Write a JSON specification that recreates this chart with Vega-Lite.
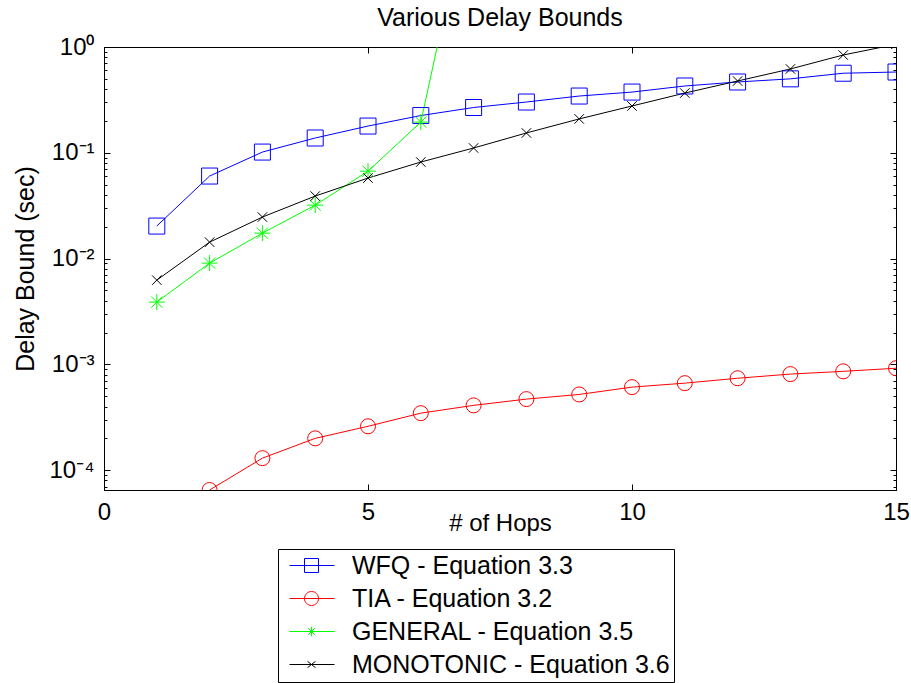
{
  "$schema": "https://vega.github.io/schema/vega-lite/v6.json",
  "width": 792,
  "height": 443,
  "autosize": {"type": "none"},
  "padding": {"left": 104, "top": 47, "right": 15, "bottom": 193},
  "background": "white",
  "title": {"text": "Various Delay Bounds", "fontSize": 25, "font": "Liberation Sans", "fontWeight": "normal", "color": "black", "offset": 8, "dy": 24, "baseline": "alphabetic"},
  "config": {
    "view": {"stroke": "black", "strokeWidth": 1},
    "axis": {"domainColor": "black", "tickColor": "black", "labelColor": "black", "titleColor": "black", "labelFont": "Liberation Sans", "titleFont": "Liberation Sans", "titleFontWeight": "normal", "grid": false, "tickWidth": 1, "domainWidth": 1}
  },
  "data": {"values": [
    {"s": "WFQ - Equation 3.3", "x": 1, "y": 0.0203},
    {"s": "WFQ - Equation 3.3", "x": 2, "y": 0.0603},
    {"s": "WFQ - Equation 3.3", "x": 3, "y": 0.1016},
    {"s": "WFQ - Equation 3.3", "x": 4, "y": 0.138},
    {"s": "WFQ - Equation 3.3", "x": 5, "y": 0.179},
    {"s": "WFQ - Equation 3.3", "x": 6, "y": 0.225},
    {"s": "WFQ - Equation 3.3", "x": 7, "y": 0.268},
    {"s": "WFQ - Equation 3.3", "x": 8, "y": 0.302},
    {"s": "WFQ - Equation 3.3", "x": 9, "y": 0.344},
    {"s": "WFQ - Equation 3.3", "x": 10, "y": 0.375},
    {"s": "WFQ - Equation 3.3", "x": 11, "y": 0.428},
    {"s": "WFQ - Equation 3.3", "x": 12, "y": 0.467},
    {"s": "WFQ - Equation 3.3", "x": 13, "y": 0.50},
    {"s": "WFQ - Equation 3.3", "x": 14, "y": 0.565},
    {"s": "WFQ - Equation 3.3", "x": 15, "y": 0.58},
    {"s": "TIA - Equation 3.2", "x": 2, "y": 0.000065},
    {"s": "TIA - Equation 3.2", "x": 3, "y": 0.00013},
    {"s": "TIA - Equation 3.2", "x": 4, "y": 0.0002},
    {"s": "TIA - Equation 3.2", "x": 5, "y": 0.00026},
    {"s": "TIA - Equation 3.2", "x": 6, "y": 0.000346},
    {"s": "TIA - Equation 3.2", "x": 7, "y": 0.00041},
    {"s": "TIA - Equation 3.2", "x": 8, "y": 0.00047},
    {"s": "TIA - Equation 3.2", "x": 9, "y": 0.00052},
    {"s": "TIA - Equation 3.2", "x": 10, "y": 0.00061},
    {"s": "TIA - Equation 3.2", "x": 11, "y": 0.000665},
    {"s": "TIA - Equation 3.2", "x": 12, "y": 0.00074},
    {"s": "TIA - Equation 3.2", "x": 13, "y": 0.00081},
    {"s": "TIA - Equation 3.2", "x": 14, "y": 0.00086},
    {"s": "TIA - Equation 3.2", "x": 15, "y": 0.00092},
    {"s": "GENERAL - Equation 3.5", "x": 1, "y": 0.00388},
    {"s": "GENERAL - Equation 3.5", "x": 2, "y": 0.00906},
    {"s": "GENERAL - Equation 3.5", "x": 3, "y": 0.0174},
    {"s": "GENERAL - Equation 3.5", "x": 4, "y": 0.032},
    {"s": "GENERAL - Equation 3.5", "x": 5, "y": 0.067},
    {"s": "GENERAL - Equation 3.5", "x": 6, "y": 0.195},
    {"s": "GENERAL - Equation 3.5", "x": 7, "y": 38},
    {"s": "MONOTONIC - Equation 3.6", "x": 1, "y": 0.00626},
    {"s": "MONOTONIC - Equation 3.6", "x": 2, "y": 0.0143},
    {"s": "MONOTONIC - Equation 3.6", "x": 3, "y": 0.0247},
    {"s": "MONOTONIC - Equation 3.6", "x": 4, "y": 0.039},
    {"s": "MONOTONIC - Equation 3.6", "x": 5, "y": 0.0577},
    {"s": "MONOTONIC - Equation 3.6", "x": 6, "y": 0.0818},
    {"s": "MONOTONIC - Equation 3.6", "x": 7, "y": 0.111},
    {"s": "MONOTONIC - Equation 3.6", "x": 8, "y": 0.154},
    {"s": "MONOTONIC - Equation 3.6", "x": 9, "y": 0.209},
    {"s": "MONOTONIC - Equation 3.6", "x": 10, "y": 0.277},
    {"s": "MONOTONIC - Equation 3.6", "x": 11, "y": 0.367},
    {"s": "MONOTONIC - Equation 3.6", "x": 12, "y": 0.477},
    {"s": "MONOTONIC - Equation 3.6", "x": 13, "y": 0.62},
    {"s": "MONOTONIC - Equation 3.6", "x": 14, "y": 0.84},
    {"s": "MONOTONIC - Equation 3.6", "x": 15, "y": 1.06}
  ]},
  "layer": [
    {
      "mark": {"type": "line", "strokeWidth": 1, "clip": true},
      "encoding": {
        "x": {"field": "x", "type": "quantitative", "scale": {"domain": [0, 15], "nice": false, "zero": false},
          "axis": {"orient": "bottom", "values": [0, 5, 10, 15], "title": "# of Hops", "tickSize": -6, "labelFontSize": 24, "labelPadding": 16, "labelFlush": false, "titleFontSize": 24, "titleY": 33, "titleBaseline": "middle"}},
        "y": {"field": "y", "type": "quantitative", "scale": {"type": "log", "domain": [0.000065, 1], "nice": false},
          "axis": {"orient": "left", "title": "Delay Bound (sec)", "titleFontSize": 25, "titleX": -79, "titleBaseline": "middle",
            "values": [0.00007, 0.00008, 0.00009, 0.0001, 0.0002, 0.0003, 0.0004, 0.0005, 0.0006, 0.0007, 0.0008, 0.0009, 0.001, 0.002, 0.003, 0.004, 0.005, 0.006, 0.007, 0.008, 0.009, 0.01, 0.02, 0.03, 0.04, 0.05, 0.06, 0.07, 0.08, 0.09, 0.1, 0.2, 0.3, 0.4, 0.5, 0.6, 0.7, 0.8, 0.9, 1],
            "tickSize": {"condition": {"test": "abs(log(datum.value)/LN10 - round(log(datum.value)/LN10)) < 0.001", "value": -6}, "value": -3},
            "labelExpr": "abs(log(datum.value)/LN10 - round(log(datum.value)/LN10)) < 0.001 ? ['10⁰','10⁻¹','10⁻²','10⁻³','10⁻⁴'][-round(log(datum.value)/LN10)] : ''",
            "labelFontSize": 24, "labelPadding": 16, "labelFlush": false, "labelOverlap": false}},
        "color": {"field": "s", "type": "nominal",
          "scale": {"domain": ["WFQ - Equation 3.3", "TIA - Equation 3.2", "GENERAL - Equation 3.5", "MONOTONIC - Equation 3.6"], "range": ["#0000ff", "#ff0000", "#00ff00", "#000000"]},
          "legend": {"title": null, "orient": "none", "legendX": 174, "legendY": 502, "direction": "vertical", "strokeColor": "black", "fillColor": "white", "padding": 4, "symbolSize": 256, "symbolStrokeWidth": 1, "symbolOpacity": 1, "labelFontSize": 25, "labelFont": "Liberation Sans", "labelColor": "black", "labelOffset": 45, "rowPadding": 7, "labelLimit": 0}}
      }
    },
    {
      "mark": {"type": "point", "filled": false, "strokeWidth": 1, "opacity": 0, "size": 256, "clip": true},
      "encoding": {
        "x": {"field": "x", "type": "quantitative", "scale": {"domain": [0, 15], "nice": false, "zero": false},
          "axis": {"orient": "top", "values": [0, 5, 10, 15], "labels": false, "title": null, "tickSize": -6}},
        "y": {"field": "y", "type": "quantitative", "scale": {"type": "log", "domain": [0.000065, 1], "nice": false},
          "axis": {"orient": "right", "labels": false, "title": null,
            "values": [0.00007, 0.00008, 0.00009, 0.0001, 0.0002, 0.0003, 0.0004, 0.0005, 0.0006, 0.0007, 0.0008, 0.0009, 0.001, 0.002, 0.003, 0.004, 0.005, 0.006, 0.007, 0.008, 0.009, 0.01, 0.02, 0.03, 0.04, 0.05, 0.06, 0.07, 0.08, 0.09, 0.1, 0.2, 0.3, 0.4, 0.5, 0.6, 0.7, 0.8, 0.9, 1],
            "tickSize": {"condition": {"test": "abs(log(datum.value)/LN10 - round(log(datum.value)/LN10)) < 0.001", "value": -6}, "value": -3}}},
        "color": {"field": "s", "type": "nominal"},
        "shape": {"field": "s", "type": "nominal", "legend": null,
          "scale": {"domain": ["WFQ - Equation 3.3", "TIA - Equation 3.2", "GENERAL - Equation 3.5", "MONOTONIC - Equation 3.6"],
            "range": ["M-0.625,0H5M1.25,-0.875H3V0.875H1.25Z", "M-0.625,0H5M1.25,0A0.875,0.875,0,1,1,3,0A0.875,0.875,0,1,1,1.25,0", "M-0.625,0H5M2.125,-0.6V0.6M1.7,-0.42L2.55,0.42M1.7,0.42L2.55,-0.42", "M-0.625,0H5M1.625,-0.4L2.625,0.4M1.625,0.4L2.625,-0.4"]}}
      }
    },
    {
      "transform": [{"filter": "datum.s == 'WFQ - Equation 3.3'"}],
      "mark": {"type": "point", "shape": "square", "size": 256, "color": "#0000ff", "filled": false, "strokeWidth": 1, "clip": true, "opacity": 1},
      "encoding": {
        "x": {"field": "x", "type": "quantitative", "axis": null},
        "y": {"field": "y", "type": "quantitative", "axis": null}
      }
    },
    {
      "transform": [{"filter": "datum.s == 'TIA - Equation 3.2'"}],
      "mark": {"type": "point", "shape": "circle", "size": 225, "color": "#ff0000", "filled": false, "strokeWidth": 1, "clip": true, "opacity": 1},
      "encoding": {
        "x": {"field": "x", "type": "quantitative", "axis": null},
        "y": {"field": "y", "type": "quantitative", "axis": null}
      }
    },
    {
      "transform": [{"filter": "datum.s == 'GENERAL - Equation 3.5'"}],
      "mark": {"type": "point", "shape": "M-1,0H1M0,-1V1M-0.7,-0.7L0.7,0.7M-0.7,0.7L0.7,-0.7", "size": 256, "color": "#00ff00", "filled": false, "strokeWidth": 1, "clip": true, "opacity": 1},
      "encoding": {
        "x": {"field": "x", "type": "quantitative", "axis": null},
        "y": {"field": "y", "type": "quantitative", "axis": null}
      }
    },
    {
      "transform": [{"filter": "datum.s == 'MONOTONIC - Equation 3.6'"}],
      "mark": {"type": "point", "shape": "M-1,-1L1,1M-1,1L1,-1", "size": 90, "color": "#000000", "filled": false, "strokeWidth": 1, "clip": true, "opacity": 1},
      "encoding": {
        "x": {"field": "x", "type": "quantitative", "axis": null},
        "y": {"field": "y", "type": "quantitative", "axis": null}
      }
    }
  ],
  "resolve": {"axis": {"x": "independent", "y": "independent"}}
}
